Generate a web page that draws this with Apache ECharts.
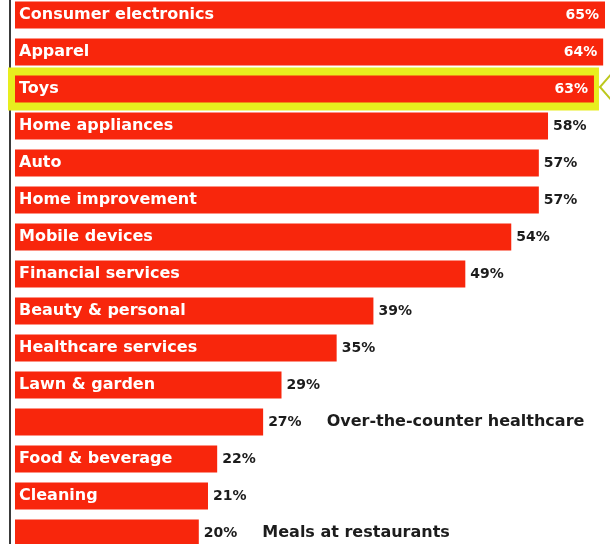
<!DOCTYPE html>
<html>
<head>
<meta charset="utf-8">
<title>Share by category</title>
<script src="https://cdn.jsdelivr.net/npm/echarts@6/dist/echarts.min.js"></script>
<style>
  html, body { margin: 0; padding: 0; background: #ffffff; }
  #chart { width: 610px; height: 544px; }
</style>
</head>
<body>
<div id="chart"></div>
<script>
// Categories, top to bottom
var categories = [
  'Consumer electronics', 'Apparel', 'Toys', 'Home appliances', 'Auto',
  'Home improvement', 'Mobile devices', 'Financial services', 'Beauty & personal',
  'Healthcare services', 'Lawn & garden', 'Over-the-counter healthcare',
  'Food & beverage', 'Cleaning', 'Meals at restaurants'
];
// Percent of respondents per category
var values = [65, 64, 63, 58, 57, 57, 54, 49, 39, 35, 29, 27, 22, 21, 20];
// Category that gets the yellow call-out box
var highlighted = ['Toys'];
// Categories whose name is printed after the value instead of inside the bar
var namesOutside = ['Over-the-counter healthcare', 'Meals at restaurants'];

var RED = '#f8260c';
var YELLOW = '#e8ee1e';
var FONT = 'DejaVu Sans';

var chart = echarts.init(document.getElementById('chart'), null, { renderer: 'canvas' });

var barData = values.map(function (v, i) {
  var name = categories[i];
  var inside = v >= 60;
  var outsideName = namesOutside.indexOf(name) >= 0;
  return {
    value: v,
    name: name,
    label: {
      position: inside ? 'insideRight' : 'right',
      distance: inside ? 6 : 5,
      formatter: outsideName ? '{v|' + v + '%}{n|' + name + '}' : v + '%',
      color: inside ? '#ffffff' : '#1c1c1c'
    }
  };
});

var highlightData = highlighted.map(function (name) {
  return [values[categories.indexOf(name)], name];
});

chart.setOption({
  animation: false,
  backgroundColor: '#ffffff',
  grid: {
    left: 15, right: 5, top: -3.5, bottom: -7.5,
    containLabel: false, outerBoundsMode: 'none'
  },
  xAxis: {
    type: 'value', min: 0, max: 64.2,
    axisLine: { show: false }, axisTick: { show: false },
    axisLabel: { show: false }, splitLine: { show: false }
  },
  yAxis: [
    {
      // left rule line, set a little apart from the bars
      type: 'category', data: categories, inverse: true,
      position: 'left', offset: 5, z: 0,
      axisLine: { show: true, onZero: false, lineStyle: { color: '#3a3a3a', width: 2 } },
      axisTick: { show: false }, axisLabel: { show: false }
    },
    {
      // category names drawn inside the bars
      type: 'category', data: categories, inverse: true,
      position: 'left', offset: 0, z: 5,
      axisLine: { show: false, onZero: false }, axisTick: { show: false },
      axisLabel: {
        inside: true, margin: 4, interval: 0,
        color: '#ffffff', fontFamily: FONT, fontWeight: 'bold', fontSize: 16,
        formatter: function (name) {
          return namesOutside.indexOf(name) >= 0 ? '' : name;
        }
      }
    }
  ],
  series: [
    {
      // yellow call-out box with pointer
      type: 'custom', z: 1, silent: true,
      coordinateSystem: 'cartesian2d', yAxisIndex: 0,
      data: highlightData,
      renderItem: function (params, api) {
        var start = api.coord([0, api.value(1)]);
        var end = api.coord([api.value(0), api.value(1)]);
        var band = api.size([0, 1])[1];
        var h = band * 1.16;
        var x0 = start[0] - 7;
        var x1 = end[0] + 5;
        var cy = start[1];
        return {
          type: 'group',
          children: [
            {
              type: 'rect',
              shape: { x: x0, y: cy - h / 2, width: x1 - x0, height: h },
              style: { fill: YELLOW }
            },
            {
              type: 'polyline',
              shape: { points: [[x1 + 14, cy - 17], [x1 + 1, cy - 2], [x1 + 14, cy + 13]] },
              style: { stroke: '#bcc81e', lineWidth: 2, fill: null }
            }
          ]
        };
      }
    },
    {
      type: 'bar', z: 2, yAxisIndex: 0,
      data: barData,
      barWidth: 27,
      clip: true,
      itemStyle: { color: RED },
      label: {
        show: true,
        fontFamily: FONT, fontWeight: 'bold', fontSize: 14,
        rich: {
          v: { fontFamily: FONT, fontWeight: 'bold', fontSize: 14, color: '#1c1c1c' },
          n: { fontFamily: FONT, fontWeight: 'bold', fontSize: 16, color: '#1c1c1c', padding: [0, 0, 0, 25] }
        }
      }
    }
  ]
});
</script>
</body>
</html>
